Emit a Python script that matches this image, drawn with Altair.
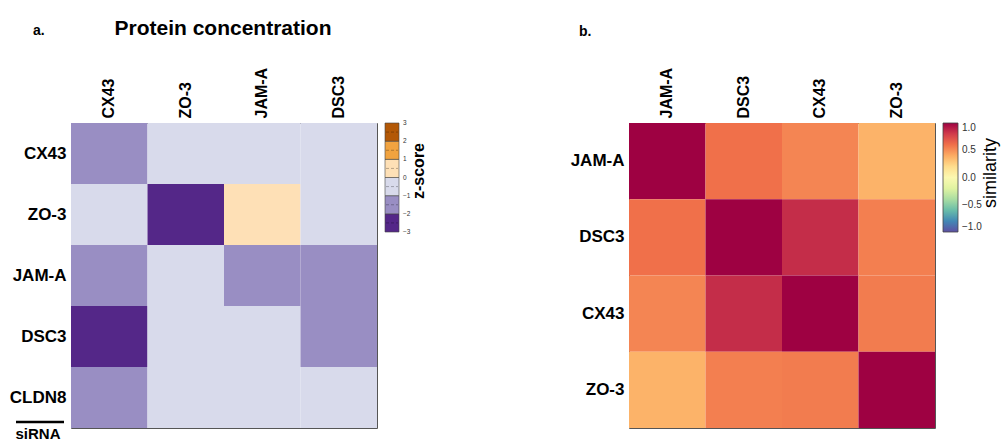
import altair as alt
import pandas as pd

FONT = "Liberation Sans"

# ---------- panel a data: z-scores (rows = siRNA, cols = protein) ----------
sirna_rows = ["CX43", "ZO-3", "JAM-A", "DSC3", "CLDN8"]
protein_cols = ["CX43", "ZO-3", "JAM-A", "DSC3"]
z_CX43 = [-1.5, -0.5, -0.5, -0.5]
z_ZO3 = [-0.5, -2.5, 0.5, -0.5]
z_JAMA = [-1.5, -0.5, -1.5, -1.5]
z_DSC3 = [-2.5, -0.5, -0.5, -1.5]
z_CLDN8 = [-1.5, -0.5, -0.5, -0.5]
z_rows = [z_CX43, z_ZO3, z_JAMA, z_DSC3, z_CLDN8]
puor_colors = ["#542788", "#998ec3", "#d8daeb", "#fee0b6", "#f1a340", "#b35806"]
z_ticks = [-3, -2, -1, 0, 1, 2, 3]

# ---------- panel b data: similarity matrix ----------
sim_labels = ["JAM-A", "DSC3", "CX43", "ZO-3"]
sim_JAMA = [1.00, 0.60, 0.53, 0.37]
sim_DSC3 = [0.60, 1.00, 0.85, 0.55]
sim_CX43 = [0.53, 0.85, 1.00, 0.56]
sim_ZO3 = [0.37, 0.55, 0.56, 1.00]
sim_rows = [sim_JAMA, sim_DSC3, sim_CX43, sim_ZO3]
sim_ticks = [-1.0, -0.5, 0.0, 0.5, 1.0]
sim_dash = [-0.9, -0.8, -0.7, -0.6, -0.5, -0.4, -0.3, -0.2, -0.1, 0.0,
            0.1, 0.2, 0.3, 0.4, 0.5, 0.6, 0.7, 0.8, 0.9]

df_a = pd.DataFrame(
    [{"siRNA": r, "protein": c, "z": z_rows[i][j]}
     for i, r in enumerate(sirna_rows) for j, c in enumerate(protein_cols)]
)
df_b = pd.DataFrame(
    [{"row": r, "col": c, "sim": sim_rows[i][j]}
     for i, r in enumerate(sim_labels) for j, c in enumerate(sim_labels)]
)
leg_a = pd.DataFrame({"lo": z_ticks[:-1], "hi": z_ticks[1:], "color": puor_colors})
leg_a["mid"] = (leg_a["lo"] + leg_a["hi"]) / 2
leg_a_ticks = pd.DataFrame({"v": z_ticks})
leg_b_dash = pd.DataFrame({"v": sim_dash})

W, H = 306, 305
LEG_LEN = 109

def top_axis():
    return alt.Axis(orient="top", labelAngle=-90, title=None, ticks=False, domain=False,
                    labelFont=FONT, labelFontSize=16, labelFontWeight="bold",
                    labelColor="black", labelPadding=5)

def left_axis():
    return alt.Axis(title=None, ticks=False, domain=False, labelFont=FONT,
                    labelFontSize=17, labelFontWeight="bold", labelColor="black",
                    labelPadding=5)

def txt(s):
    return alt.Chart(pd.DataFrame({"t": [s]}))

heat_a = alt.Chart(df_a).mark_rect().encode(
    x=alt.X("protein:N", sort=protein_cols, axis=top_axis(),
            scale=alt.Scale(paddingInner=0, paddingOuter=0)),
    y=alt.Y("siRNA:N", sort=sirna_rows, axis=left_axis(),
            scale=alt.Scale(paddingInner=0, paddingOuter=0)),
    color=alt.Color("z:Q",
                    scale=alt.Scale(type="quantize", domain=[-3, 3], range=puor_colors),
                    legend=None),
)

# manual colour bar for panel a
ya = alt.Scale(domain=[-3, 3], range=[LEG_LEN, 0])
bar_a = alt.Chart(leg_a).mark_rect(stroke="#444", strokeWidth=0.6).encode(
    x=alt.value(314), x2=alt.value(328),
    y=alt.Y("lo:Q", scale=ya, axis=None), y2="hi:Q",
    color=alt.Color("color:N", scale=None),
)
dash_a = alt.Chart(leg_a).mark_rule(color="black", opacity=0.35, strokeDash=[3, 2], strokeWidth=0.8).encode(
    x=alt.value(315), x2=alt.value(327),
    y=alt.Y("mid:Q", scale=ya, axis=None),
)
labels_a = alt.Chart(leg_a_ticks).mark_text(
    font=FONT, fontSize=6.5, color="#333", align="left", baseline="middle"
).encode(
    x=alt.value(332),
    y=alt.Y("v:Q", scale=ya, axis=None),
    text=alt.Text("v:Q", format="d"),
)

title_a = txt("Protein concentration").mark_text(
    font=FONT, fontSize=21, fontWeight="bold", align="center", baseline="alphabetic", color="black"
).encode(text="t:N", x=alt.value(152), y=alt.value(-88))
lab_a = txt("a.").mark_text(
    font=FONT, fontSize=14, fontWeight="bold", align="left", baseline="alphabetic", color="black"
).encode(text="t:N", x=alt.value(-38), y=alt.value(-88))
zlab = txt("z-score").mark_text(
    font=FONT, fontSize=16, fontWeight="bold", align="center", baseline="middle", angle=270, color="black"
).encode(text="t:N", x=alt.value(348), y=alt.value(48))
sirna_rule = txt("x").mark_rule(color="black", strokeWidth=2.5).encode(
    x=alt.value(-55), x2=alt.value(-7), y=alt.value(299))
sirna_txt = txt("siRNA").mark_text(
    font=FONT, fontSize=15, fontWeight="bold", align="center", baseline="alphabetic", color="black"
).encode(text="t:N", x=alt.value(-33), y=alt.value(316))

panel_a = alt.layer(
    heat_a, bar_a, dash_a, labels_a, title_a, lab_a, zlab, sirna_rule, sirna_txt
).resolve_scale(y="independent").properties(width=W, height=H)

heat_b = alt.Chart(df_b).mark_rect().encode(
    x=alt.X("col:N", sort=sim_labels, axis=top_axis(),
            scale=alt.Scale(paddingInner=0, paddingOuter=0)),
    y=alt.Y("row:N", sort=sim_labels, axis=left_axis(),
            scale=alt.Scale(paddingInner=0, paddingOuter=0)),
    color=alt.Color("sim:Q",
                    scale=alt.Scale(scheme="spectral", reverse=True, domain=[-1, 1]),
                    legend=alt.Legend(type="gradient", orient="none", legendX=314, legendY=0,
                                      direction="vertical", gradientLength=LEG_LEN,
                                      gradientThickness=15, title=None, values=sim_ticks,
                                      format=".1f", labelFont=FONT, labelFontSize=10,
                                      labelColor="#333", labelOffset=4,
                                      gradientStrokeColor="#444", gradientStrokeWidth=0.8)),
)
yb = alt.Scale(domain=[-1, 1], range=[LEG_LEN, 0])
dash_b = alt.Chart(leg_b_dash).mark_rule(color="black", opacity=0.3, strokeDash=[3, 2], strokeWidth=0.8).encode(
    x=alt.value(315), x2=alt.value(328),
    y=alt.Y("v:Q", scale=yb, axis=None),
)
lab_b = txt("b.").mark_text(
    font=FONT, fontSize=14, fontWeight="bold", align="left", baseline="alphabetic", color="black"
).encode(text="t:N", x=alt.value(-50), y=alt.value(-87))
simlab = txt("similarity").mark_text(
    font=FONT, fontSize=18, align="center", baseline="middle", angle=270, color="black"
).encode(text="t:N", x=alt.value(362), y=alt.value(50))

panel_b = alt.layer(heat_b, dash_b, lab_b, simlab).resolve_scale(
    y="independent").properties(width=W, height=H)

chart = alt.hconcat(panel_a, panel_b, spacing=252, bounds="flush").resolve_scale(
    color="independent"
).configure_view(stroke="#555", strokeWidth=1).properties(
    padding={"left": 8, "top": 17, "right": 0, "bottom": 0}, background="white"
)

chart.save("out.html", embed_options={"renderer": "svg", "actions": False})
